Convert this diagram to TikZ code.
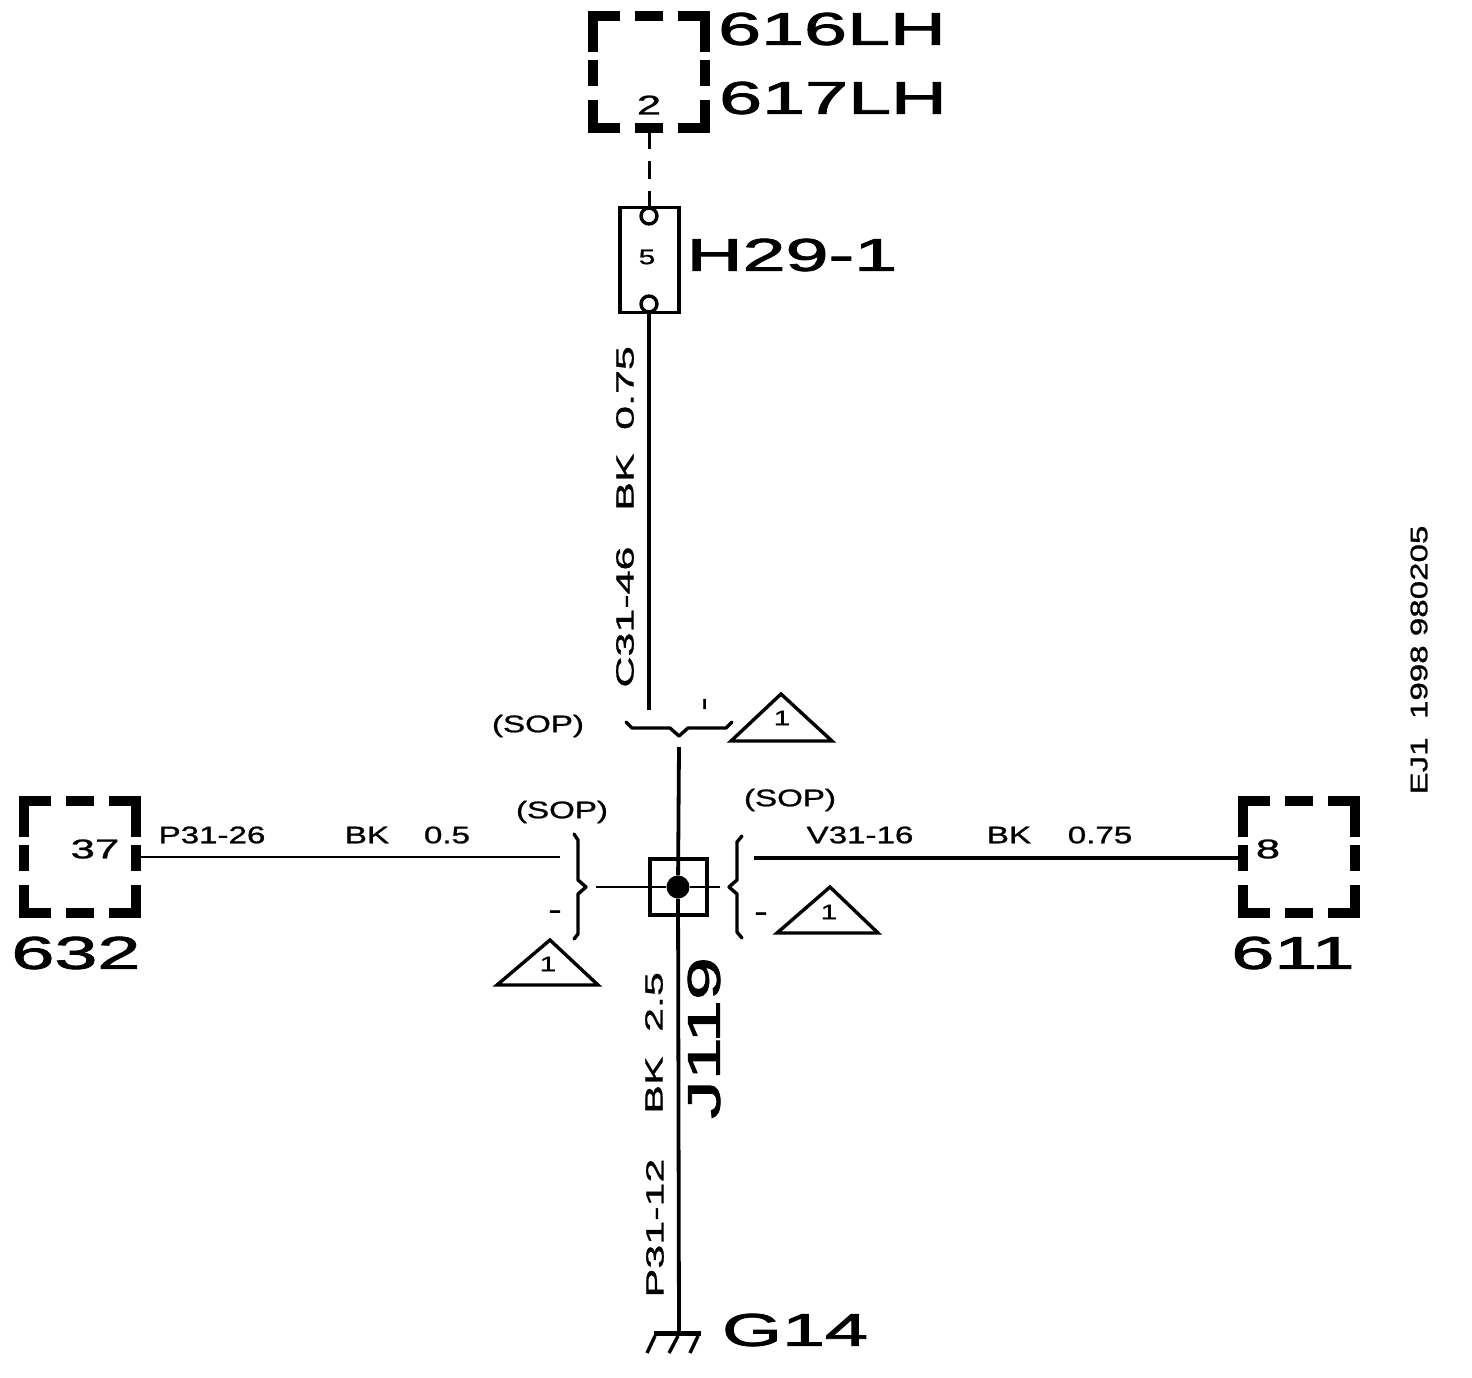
\documentclass[tikz,border=0pt]{standalone}
\usepackage{fontspec}
\usepackage{graphicx}
\setmainfont{Liberation Sans}
\newfontfamily\fatA[FakeBold=1.6]{Liberation Sans}
\newfontfamily\fatB[FakeBold=0.9]{Liberation Sans}
\newcommand{\bigT}[1]{\fatA\fontsize{46}{46}\selectfont\scalebox{1.68}[1]{#1}}
\newcommand{\midT}[1]{\fatB\fontsize{24}{24}\selectfont\scalebox{1.38}[1]{#1}}
\newcommand{\pinT}[1]{\fatB\fontsize{27}{27}\selectfont\scalebox{1.62}[1]{#1}}
\newcommand{\rotT}[1]{\fatB\fontsize{25}{25}\selectfont\scalebox{1.72}[1]{#1}}
\newcommand{\smT}[1]{\fatB\fontsize{21}{21}\selectfont\scalebox{1.42}[1]{#1}}
\newcommand{\dashT}[1]{\fatB\fontsize{30}{30}\selectfont\scalebox{1.35}[1]{#1}}
\newcommand{\dbox}[2]{%
  \draw[cutbox] (#1-56,#2-20) -- (#1-56,#2-56) -- (#1-29,#2-56);
  \draw[cutbox] (#1-14,#2-56) -- (#1+14,#2-56);
  \draw[cutbox] (#1+29,#2-56) -- (#1+56,#2-56) -- (#1+56,#2-20);
  \draw[cutbox] (#1+56,#2-12) -- (#1+56,#2+14);
  \draw[cutbox] (#1+56,#2+28) -- (#1+56,#2+56) -- (#1+29,#2+56);
  \draw[cutbox] (#1+14,#2+56) -- (#1-14,#2+56);
  \draw[cutbox] (#1-29,#2+56) -- (#1-56,#2+56) -- (#1-56,#2+28);
  \draw[cutbox] (#1-56,#2+14) -- (#1-56,#2-12);
}
\tikzset{
  x=1pt,y=-1pt,
  cutbox/.style={line width=9.5pt,line cap=butt,line join=miter},
  wire/.style={line width=3.4pt},
  thinwire/.style={line width=2.6pt},
  tri/.style={line width=3.4pt,line join=miter},
  brace/.style={line width=3.4pt,line join=round,line cap=round},
  lbl/.style={inner sep=0pt,outer sep=0pt,anchor=center},
}
\begin{document}
\begin{tikzpicture}
\useasboundingbox (0,0) rectangle (1472,1378);
% connector boxes
\dbox{649}{72}
\dbox{80}{857}
\dbox{1299}{857}
\coordinate (c2) at (649,133);
\coordinate (c37) at (141,857);
\coordinate (c8) at (1239,858);
% H29 block
\node[draw,line width=3.4pt,minimum width=59pt,minimum height=105pt,inner sep=0pt] (h29) at (649.5,260) {};
\node[lbl] at (647,257) {\smT{5}};
\node[circle,draw,line width=3.4pt,fill=white,minimum size=16pt,inner sep=0pt] (h29a) at (649,216) {};
\node[circle,draw,line width=3.4pt,fill=white,minimum size=16pt,inner sep=0pt] (h29b) at (649,304) {};
\draw[line width=3pt,dash pattern=on 16pt off 12pt on 18pt off 12pt on 20pt] (c2) -- (h29a.north);
% main wires
\coordinate (brT) at (649,710);
\draw[wire] (h29b.south) -- (brT);
\node[draw,line width=4pt,minimum width=57pt,minimum height=56pt,inner sep=0pt] (j) at (678.5,886.5) {};
\node[circle,fill=black,minimum size=23pt,inner sep=0pt] (jd) at (678,887) {};
\coordinate (topw) at (679,747);
\coordinate (gnd) at (679,1332);
\draw[line width=3.8pt] (topw) -- (jd) -- (gnd);
\coordinate (jl) at (596,887);
\coordinate (jr) at (720,887);
\draw[thinwire] (jl) -- (jd) -- (jr);
\coordinate (wl) at (560,857);
\coordinate (wr) at (754,858);
\draw[thinwire] (c37) -- (wl);
\draw[wire] (wr) -- (c8);
% braces
\draw[brace] (626,722) -- (632,728) -- (670,728) -- (679,736) -- (688,728) -- (726,728) -- (732,722);
\draw[brace] (574,834) -- (578,840) -- (578,880) -- (586,887) -- (578,894) -- (578,934) -- (574,939);
\draw[brace] (742,836) -- (737,842) -- (737,880) -- (729,887) -- (737,894) -- (737,932) -- (742,938);
% triangles
\draw[tri] (781,694) -- (832,741) -- (731,741) -- cycle;
\draw[tri] (550,940) -- (598,985) -- (497,985) -- cycle;
\draw[tri] (830,887) -- (878,933) -- (777,933) -- cycle;
\node[lbl] at (782,718) {\smT{1}};
\node[lbl] at (548,964) {\smT{1}};
\node[lbl] at (829,912) {\smT{1}};
% ground
\draw[line width=5pt] (654,1333) -- (701,1333);
\draw[line width=3.4pt] (655,1336) -- (647,1353);
\draw[line width=3.4pt] (678,1336) -- (669,1353);
\draw[line width=3.4pt] (698,1336) -- (690,1353);
% big labels
\node[lbl] at (832,29) {\bigT{616LH}};
\node[lbl] at (833,98) {\bigT{617LH}};
\node[lbl] at (792,255) {\bigT{H29-1}};
\node[lbl] at (76,953) {\bigT{632}};
\node[lbl] at (1293,953) {\bigT{611}};
\node[lbl] at (795,1330) {\bigT{G14}};
\node[lbl,rotate=90] at (704,1038) {\bigT{J119}};
% pin numbers
\node[lbl] at (649,105) {\pinT{2}};
\node[lbl] at (95,849) {\pinT{37}};
\node[lbl] at (1268,849) {\pinT{8}};
% wire labels
\node[lbl] at (212,835) {\midT{P31-26}};
\node[lbl] at (367,835) {\midT{BK}};
\node[lbl] at (447,835) {\midT{0.5}};
\node[lbl] at (860,835) {\midT{V31-16}};
\node[lbl] at (1009,835) {\midT{BK}};
\node[lbl] at (1100,835) {\midT{0.75}};
\node[lbl,rotate=90] at (625,482) {\rotT{BK}};
\node[lbl,rotate=90] at (625,388) {\rotT{0.75}};
\node[lbl,rotate=90] at (625,617) {\rotT{C31-46}};
\node[lbl,rotate=90] at (654,1085) {\rotT{BK}};
\node[lbl,rotate=90] at (654,1002) {\rotT{2.5}};
\node[lbl,rotate=90] at (655,1228) {\rotT{P31-12}};
% SOP
\node[lbl] at (538,726) {\midT{(SOP)}};
\node[lbl] at (562,812) {\midT{(SOP)}};
\node[lbl] at (790,800) {\midT{(SOP)}};
% dashes
\node[lbl,rotate=90] at (708,704) {\dashT{-}};
\node[lbl] at (555,915) {\dashT{-}};
\node[lbl] at (761,917) {\dashT{-}};
% stamp
\node[lbl,rotate=90] at (1419,660) {\midT{EJ1 \ 1998 980205}};
\end{tikzpicture}
\end{document}
